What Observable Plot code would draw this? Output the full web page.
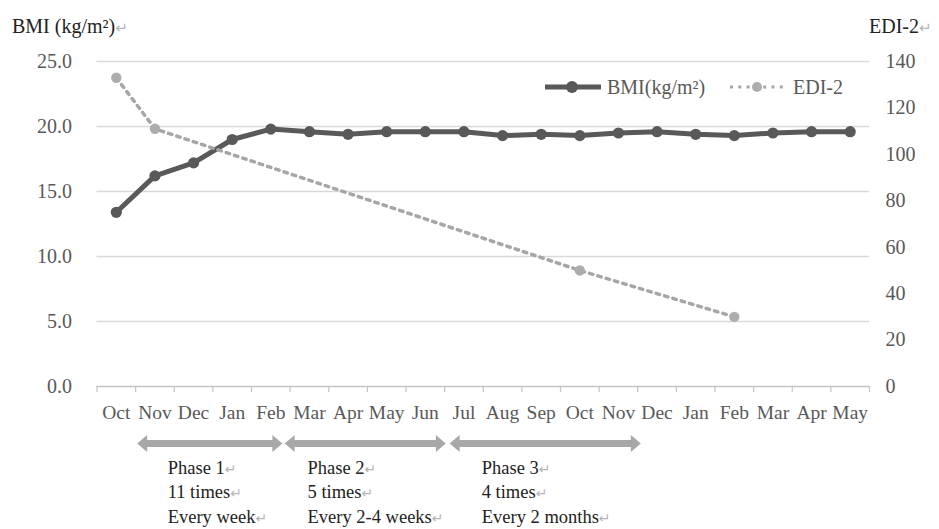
<!DOCTYPE html>
<html>
<head>
<meta charset="utf-8">
<script src="https://cdn.jsdelivr.net/npm/d3@7"></script>
<script src="https://cdn.jsdelivr.net/npm/@observablehq/plot@0.6"></script>
<style>
  html, body { margin: 0; padding: 0; background: #fff; overflow: hidden; }
  #wrap { position: relative; width: 939px; height: 529px; }
  #overlay { position: absolute; left: 0; top: 0; pointer-events: none; }
</style>
</head>
<body>
<div id="wrap"></div>
<script>
// ---- data ----
const months = ["Oct","Nov","Dec","Jan","Feb","Mar","Apr","May","Jun","Jul","Aug","Sep","Oct","Nov","Dec","Jan","Feb","Mar","Apr","May"];
const bmi = [13.4,16.2,17.2,19.0,19.8,19.6,19.4,19.6,19.6,19.6,19.3,19.4,19.3,19.5,19.6,19.4,19.3,19.5,19.6,19.6];
const ediMonthIndex = [0, 1, 12, 16];
const edi = [133, 111, 50, 30];
const bmiTicks = [0, 5, 10, 15, 20, 25];
const ediTicks = [0, 20, 40, 60, 80, 100, 120, 140];
const ediMax = 140, bmiMax = 25;
const phaseNames = ["Phase 1", "Phase 2", "Phase 3"];
const phaseCounts = ["11 times", "5 times", "4 times"];
const phaseFreq = ["Every week", "Every 2-4 weeks", "Every 2 months"];
const phaseStart = [0.54, 4.36, 8.63];
const phaseEnd = [4.30, 8.53, 13.58];
const phaseLabelAt = [1.33, 4.95, 9.46];

// ---- tables ----
const bmiData = months.map((m, i) => ({i, bmi: bmi[i]}));
const ediData = ediMonthIndex.map((i, k) => ({i, edi: edi[k], y: edi[k] * bmiMax / ediMax}));
const phases = phaseNames.map((name, k) => ({
  name, count: phaseCounts[k], freq: phaseFreq[k],
  start: phaseStart[k], end: phaseEnd[k], labelAt: phaseLabelAt[k]
}));
const bandEdges = d3.range(-0.5, months.length, 1);

const headRight = {draw(ctx) { ctx.moveTo(0, 0); ctx.lineTo(-10, -8.5); ctx.lineTo(-10, 8.5); ctx.closePath(); }};
const headLeft = {draw(ctx) { ctx.moveTo(0, 0); ctx.lineTo(10, -8.5); ctx.lineTo(10, 8.5); ctx.closePath(); }};

const gray = "#595959";
const arrowGray = "#a8a8a8";
const ediGray = "#a6a6a6";
const arrowDy = 57;

const chart = Plot.plot({
  width: 939,
  height: 529,
  marginLeft: 96.5,
  marginRight: 70,
  marginTop: 61,
  marginBottom: 143,
  style: {fontFamily: "'Liberation Serif', 'DejaVu Serif', serif", fontSize: "20px", color: gray, background: "transparent", overflow: "visible"},
  x: {domain: [-0.5, months.length - 0.5]},
  y: {domain: [0, bmiMax]},
  marks: [
    Plot.gridY(bmiTicks.slice(1), {stroke: "#d9d9d9", strokeOpacity: 1, strokeWidth: 1.3}),
    Plot.ruleY([0], {stroke: "#c4c4c4", strokeWidth: 1.3}),
    Plot.axisX(bandEdges, {tickSize: 6, tickFormat: () => "", stroke: "#c4c4c4", strokeWidth: 1.2, label: null}),
    Plot.axisX(d3.range(months.length), {tickSize: 0, tickPadding: 19, tickFormat: i => months[i], fontSize: 19.5, fill: gray, label: null}),
    Plot.axisY(bmiTicks, {anchor: "left", tickSize: 0, tickPadding: 25, tickFormat: d3.format(".1f"), fill: gray, label: null}),
    Plot.axisY(ediTicks.map(v => v * bmiMax / ediMax), {anchor: "right", tickSize: 0, tickPadding: 16, tickFormat: d => String(Math.round(d * ediMax / bmiMax)), fill: gray, label: null}),
    // BMI
    Plot.line(bmiData, {x: "i", y: "bmi", stroke: gray, strokeWidth: 5, strokeLinejoin: "round"}),
    Plot.dot(bmiData, {x: "i", y: "bmi", r: 5.6, fill: gray, stroke: "none"}),
    // EDI-2
    Plot.line(ediData, {x: "i", y: "y", stroke: ediGray, strokeWidth: 3.5, strokeDasharray: "3.5,5.2"}),
    Plot.dot(ediData, {x: "i", y: "y", r: 5.2, fill: "#adadad", stroke: "none"}),
    // phase arrows
    Plot.ruleY(phases, {y: 0, x1: "start", x2: "end", insetLeft: 7, insetRight: 7, dy: arrowDy, stroke: arrowGray, strokeWidth: 7}),
    Plot.dot(phases, {x: "end", y: 0, symbol: headRight, r: 1, fill: arrowGray, stroke: "none", dy: arrowDy}),
    Plot.dot(phases, {x: "start", y: 0, symbol: headLeft, r: 1, fill: arrowGray, stroke: "none", dy: arrowDy}),
    Plot.text(phases, {x: "labelAt", y: 0, text: d => `${d.name}↵\n${d.count}↵\n${d.freq}↵`, textAnchor: "start", lineAnchor: "top", lineHeight: 24.5 / 18.5, fontSize: 18.5, dy: 70, fill: "#222"})
  ]
});

document.getElementById("wrap").appendChild(chart);

// overlay: axis titles and legend
const ns = "http://www.w3.org/2000/svg";
const ov = document.createElementNS(ns, "svg");
ov.setAttribute("id", "overlay");
ov.setAttribute("width", 939);
ov.setAttribute("height", 529);
ov.style.fontFamily = "'Liberation Serif', 'DejaVu Serif', serif";
ov.innerHTML = `
  <text x="12" y="33" font-size="20" fill="#222">BMI (kg/m²)↵</text>
  <text x="869" y="33" font-size="20" fill="#222">EDI-2↵</text>
  <line x1="545" x2="601" y1="87" y2="87" stroke="${gray}" stroke-width="5"/>
  <circle cx="572" cy="87" r="6" fill="${gray}"/>
  <text x="607" y="93.5" font-size="20" fill="${gray}">BMI(kg/m²)</text>
  <line x1="730" x2="783" y1="87" y2="87" stroke="${ediGray}" stroke-width="3" stroke-dasharray="3,5.3"/>
  <circle cx="757" cy="87" r="5" fill="#adadad"/>
  <text x="793" y="93.5" font-size="20" fill="${gray}">EDI-2</text>
`;
document.getElementById("wrap").appendChild(ov);

// render the Word return marks in light gray
function greyReturns(root) {
  root.querySelectorAll("text, tspan").forEach(el => {
    if (el.children.length === 0 && el.textContent.includes("↵")) {
      const t = el.textContent.replace("↵", "");
      el.textContent = t;
      const s = document.createElementNS(ns, "tspan");
      s.setAttribute("fill", "#b5b5b5");
      s.setAttribute("font-family", "'DejaVu Sans', sans-serif");
      s.setAttribute("font-size", "0.75em");
      s.textContent = "↵";
      el.appendChild(s);
    }
  });
}
greyReturns(chart);
greyReturns(ov);
</script>
</body>
</html>
